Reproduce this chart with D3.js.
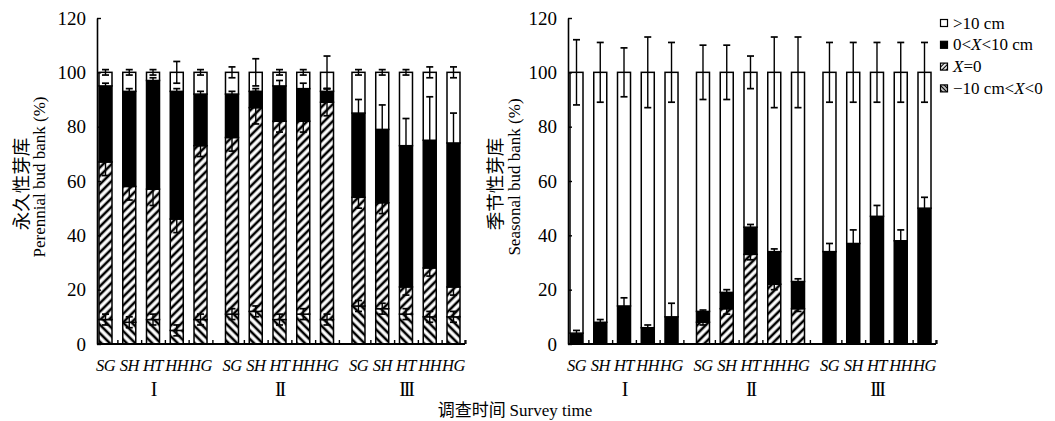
<!DOCTYPE html>
<html><head><meta charset="utf-8">
<script src="https://cdn.jsdelivr.net/npm/d3@7"></script>
<style>
body{margin:0;background:#fff}
text{font-family:"Liberation Serif","Times New Roman",serif;fill:#000}
.cjk{font-family:"Noto Sans CJK SC","Liberation Serif",serif}
</style>
</head><body>
<svg id="c" width="1055" height="421"></svg>
<script>
// ---------- data ----------
const groups = ["I","II","III"];
const groupLabels = ["I","II","III"];
const sites = ["SG","SH","HT","HH","HG"];
const layers = ["neg","zero","pos","gt10"];
const yTicks = [0,20,40,60,80,100,120];

// Perennial bud bank (bars: I-SG..I-HG, II-SG..II-HG, III-SG..III-HG)
const perNeg  = [9,8,9,5,9, 11,12,9,11,9, 14,13,11,10,10];
const perZero = [58,50,48,41,64, 65,75,73,71,80, 40,39,10,18,11];
const perPos  = [28,35,40,47,19, 16,6,13,12,4, 31,27,52,47,53];
const perGt10 = [5,7,3,7,8, 8,7,5,6,7, 15,21,27,25,26];
const perNegErr  = [2,2,2,2,2, 2,2,2,2,2, 2,2,2,2,2];
const perZeroErr = [5,5,6,5,4, 5,6,4,4,5, 4,4,3,3,3];
const perPosErr  = [1,1,1,1,1, 1,1,2,2,1, 5,9,10,16,11];
const perGt10Err = [1,1,1,4,1, 2,5,1,1,6, 1,1,1,2,2];

// Seasonal bud bank
const seaNeg  = [0,0,0,0,0, 0,0,0,0,0, 0,0,0,0,0];
const seaZero = [0,0,0,0,0, 8,13,33,22,13, 0,0,0,0,0];
const seaPos  = [4,8,14,6,10, 4,6,10,12,10, 34,37,47,38,50];
const seaGt10 = [96,92,86,94,90, 88,81,57,66,77, 66,63,53,62,50];
const seaNegErr  = [0,0,0,0,0, 0,0,0,0,0, 0,0,0,0,0];
const seaZeroErr = [0,0,0,0,0, 1,2,2,2,1, 0,0,0,0,0];
const seaPosErr  = [1,1,3,1,5, 0.5,1,1,1,1, 3,5,4,4,4];
const seaGt10Err = [12,11,9,13,11, 10,10,6,13,13, 11,11,11,11,11];

const legendLabels = [
  [">10 cm"],
  ["0<", "X", "<10 cm"],
  ["X", "=0"],
  ["−10 cm<", "X", "<0"]
];
const legendKeys = ["gt10","pos","zero","neg"];

// ---------- drawing ----------
const svg = d3.select("#c");
const defs = svg.append("defs");
function hatch(id, angle, size, sw){
  const p = defs.append("pattern").attr("id", id).attr("patternUnits","userSpaceOnUse")
    .attr("width", size).attr("height", size).attr("patternTransform", `rotate(${angle})`);
  p.append("rect").attr("width", size).attr("height", size).attr("fill","#fff");
  p.append("line").attr("x1", size/2).attr("x2", size/2).attr("y1",0).attr("y2",size)
    .attr("stroke","#000").attr("stroke-width", sw);
}
hatch("hF", 45, 6, 2.6);
hatch("hB", -45, 6, 2.6);
hatch("hFs", 45, 3, 1.2);
hatch("hBs", -45, 3, 1.5);
const fills = {neg:"url(#hB)", zero:"url(#hF)", pos:"#000", gt10:"#fff"};
const legendFills = {neg:"url(#hBs)", zero:"url(#hFs)", pos:"#000", gt10:"#fff"};

const y = d3.scaleLinear().domain([0,120]).range([344,18]);

function panel(x0, vals, errs, zhTitle, enTitle, zhX, enX){
  const W = 368;
  const g = svg.append("g");
  const xg = d3.scaleBand().domain(groups).range([x0+2, x0+363]).paddingInner(0.146).paddingOuter(0);
  const xs = d3.scaleBand().domain(sites).range([0, xg.bandwidth()]).paddingInner(0.4526).paddingOuter(0);
  const rows = [];
  groups.forEach((gr,gi)=>sites.forEach((s,si)=>{
    const i = gi*5+si;
    const r = {group:gr, site:s, idx:i};
    layers.forEach((k,ki)=>{ r[k] = vals[ki][i]; });
    rows.push(r);
  }));
  const stacked = d3.stack().keys(layers)(rows);
  const bx = d => xg(d.data.group) + xs(d.data.site);
  stacked.forEach((layer, li)=>{
    g.selectAll(null).data(layer.filter(d=>d[1]-d[0]>0)).join("rect")
      .attr("x", bx).attr("width", xs.bandwidth())
      .attr("y", d=>y(d[1])).attr("height", d=>y(d[0])-y(d[1]))
      .attr("fill", fills[layers[li]]).attr("stroke","#000").attr("stroke-width",1.5);
  });
  // error bars
  stacked.forEach((layer, li)=>{
    layer.forEach(d=>{
      const v = d[1]-d[0], e = errs[li][d.data.idx];
      if (v<=0 || !e) return;
      const cx = bx(d) + xs.bandwidth()/2;
      const yt = y(d[1]+e), yb = y(Math.max(d[1]-e,0));
      g.append("line").attr("x1",cx).attr("x2",cx).attr("y1",yt).attr("y2",yb).attr("stroke","#000").attr("stroke-width",1.4);
      [yt,yb].forEach(yy=>g.append("line").attr("x1",cx-3.5).attr("x2",cx+3.5).attr("y1",yy).attr("y2",yy).attr("stroke","#000").attr("stroke-width",1.7));
    });
  });
  // y axis
  const ya = d3.axisLeft(y).tickValues(yTicks).tickSize(-4).tickSizeOuter(0).tickPadding(11);
  const ag = svg.append("g").attr("transform",`translate(${x0},0)`).call(ya);
  ag.select(".domain").attr("stroke-width",1.6);
  ag.selectAll(".tick line").attr("stroke-width",1.4);
  ag.selectAll("text").attr("font-size",19).attr("font-family","Liberation Serif");
  // x axis
  svg.append("line").attr("x1",x0).attr("x2",x0+W).attr("y1",y(0)).attr("y2",y(0)).attr("stroke","#000").attr("stroke-width",1.8);
  const tickXs = [];
  groups.forEach(gr=>sites.forEach((s,si)=>{
    const right = xg(gr)+xs(s)+xs.bandwidth();
    tickXs.push(right + xs.step()*xs.paddingInner()/2 + 0.5);
  }));
  tickXs.push(x0+W);
  svg.selectAll(null).data(tickXs).join("line").attr("x1",d=>d).attr("x2",d=>d)
    .attr("y1",y(0)).attr("y2",y(0)-4).attr("stroke","#000").attr("stroke-width",1.4);
  // site labels
  groups.forEach((gr,gi)=>{
    sites.forEach(s=>{
      svg.append("text").attr("x", xg(gr)+xs(s)+xs.bandwidth()/2).attr("y",371)
        .attr("text-anchor","middle").attr("font-size",16.5).attr("font-style","italic")
        .attr("letter-spacing",-0.5).text(s);
    });
    svg.append("text").attr("x", xg(gr)+xg.bandwidth()/2).attr("y",396)
      .attr("text-anchor","middle").attr("font-size",20).attr("letter-spacing",-2.2).text(groupLabels[gi]);
  });
  // y titles
  svg.append("text").attr("class","cjk").attr("transform",`translate(${zhX},184) rotate(-90)`)
    .attr("text-anchor","middle").attr("font-size",18.5).text(zhTitle);
  svg.append("text").attr("transform",`translate(${enX},177) rotate(-90)`)
    .attr("text-anchor","middle").attr("font-size",17).text(enTitle);
}

panel(97, [perNeg,perZero,perPos,perGt10], [perNegErr,perZeroErr,perPosErr,perGt10Err],
  "永久性芽库", "Perennial bud bank (%)", 28, 45);
panel(568, [seaNeg,seaZero,seaPos,seaGt10], [seaNegErr,seaZeroErr,seaPosErr,seaGt10Err],
  "季节性芽库", "Seasonal bud bank (%)", 502, 520);

// x title
const xt = svg.append("text").attr("x",515).attr("y",416).attr("text-anchor","middle").attr("font-size",17);
xt.append("tspan").attr("class","cjk").attr("font-family","Noto Sans CJK SC").text("调查时间 ");
xt.append("tspan").text("Survey time");

// legend
const lg = svg.append("g");
legendKeys.forEach((k,i)=>{
  const cy = 23 + i*21.8;
  lg.append("rect").attr("x",940.5).attr("y",cy-3.5).attr("width",7).attr("height",7)
    .attr("fill",legendFills[k]).attr("stroke","#000").attr("stroke-width",1.2);
  const t = lg.append("text").attr("x",953).attr("y",cy+5.5).attr("font-size",17);
  legendLabels[i].forEach(part=>{
    t.append("tspan").attr("font-style", part==="X"?"italic":null).text(part);
  });
});
</script>
</body></html>
